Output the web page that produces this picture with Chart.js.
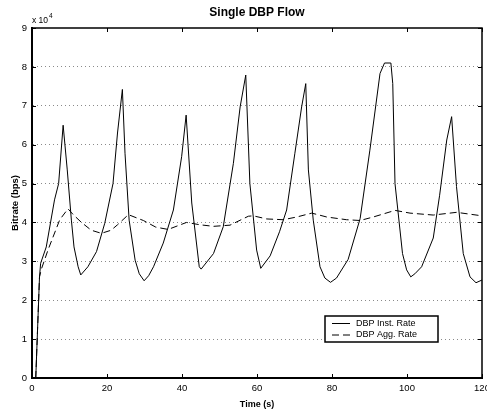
<!DOCTYPE html>
<html>
<head>
<meta charset="utf-8">
<title>Single DBP Flow</title>
<script src="https://cdn.jsdelivr.net/npm/chart.js@4.4.0/dist/chart.umd.min.js"></script>
<style>
    html, body { margin: 0; padding: 0; background: #ffffff; overflow: hidden; }
    #wrap { position: relative; width: 495px; height: 410px; }
</style>
</head>
<body>
<div id="wrap"><canvas id="rateChart"></canvas></div>
<script>
// Data (time in s, rate in bps)
const instTime = [0, 1, 2, 2.3, 3.8, 6.0, 7.1, 8.3, 9.4, 10.5, 11.2, 12.3, 13.0, 14.9, 17.2, 19.4, 21.6, 22.8,
    24.1, 24.8, 25.9, 27.5, 28.6, 29.9, 31.1, 32.4, 35, 37.7, 39.9, 41.1, 42.6, 44.6, 45.1, 48.4, 51, 53.7, 55.5,
    57, 58.1, 59.9, 61, 63.5, 66, 67.9, 70.1, 71.9, 73, 73.7, 75, 76.8, 78.1, 79.6, 81.2, 84.3, 87.5, 90.1, 92.8,
    94, 95.7, 96.2, 96.8, 98.8, 99.9, 101, 102.1, 103.9, 107, 108.7, 110.6, 111.9, 113.2, 115, 116.8, 118.4, 120];
const instRate = [0, 0, 26000, 29500, 33700, 45800, 50000, 65000, 53500, 40600, 33700, 28600, 26500, 28600, 32500, 39800, 50000, 63000,
    74200, 57800, 40600, 30300, 26800, 25000, 26300, 28600, 34700, 43200, 56900, 67600, 45000, 28600, 28000, 32000, 38900, 55200, 69700,
    77900, 50000, 32900, 28200, 31400, 37600, 43200, 57800, 69700, 75700, 53500, 40600, 28600, 25700, 24600, 25700, 30500, 41000, 58600, 78300,
    81000, 81000, 75700, 50000, 32000, 27800, 26000, 26800, 28600, 36000, 47000, 61200, 67200, 49200, 32000, 26000, 24500, 25200];

const aggTime = [1, 2, 2.5, 4.3, 7.4, 9.6, 11, 13.2, 15.8, 18.5, 21.1, 22.8, 25.7, 29.7, 33, 36.3, 41.2, 44.8,
    48.4, 52.8, 57.7, 59, 62.6, 67, 70.6, 74.6, 78.6, 83.9, 87.5, 91, 96.8, 100.8, 107, 113.2, 120];
const aggRate = [0, 26000, 28000, 33000, 40700, 43500, 42000, 40000, 38000, 37200, 38000, 39400, 42000, 40500, 38800, 38200, 40000, 39400,
    39000, 39300, 41600, 41700, 40900, 40700, 41400, 42400, 41400, 40700, 40500, 41400, 43100, 42400, 41900, 42600, 41700];

const seriesLabels = ['DBP Inst. Rate', 'DBP Agg. Rate'];
const yScaleFactor = 10000;

const FONT = '"Liberation Sans", Arial, Helvetica, sans-serif';

function toPoints(times, values) {
    return times.map((t, i) => ({ x: t, y: values[i] }));
}

// MATLAB-style frame: full box, inward ticks, exponent label, boxed legend inside the axes
const matlabFrame = {
    id: 'matlabFrame',
    afterDraw(chart) {
        const { ctx, chartArea: a, scales } = chart;
        const xs = scales.x, ys = scales.y;
        ctx.save();
        ctx.strokeStyle = '#000';
        ctx.lineWidth = 1;
        ctx.beginPath();
        xs.ticks.forEach(t => {
            const px = Math.round(xs.getPixelForValue(t.value)) + 0.5;
            ctx.moveTo(px, a.bottom); ctx.lineTo(px, a.bottom - 4);
            ctx.moveTo(px, a.top); ctx.lineTo(px, a.top + 4);
        });
        ys.ticks.forEach(t => {
            const py = Math.round(ys.getPixelForValue(t.value)) + 0.5;
            ctx.moveTo(a.left, py); ctx.lineTo(a.left + 4, py);
            ctx.moveTo(a.right, py); ctx.lineTo(a.right - 4, py);
        });
        ctx.stroke();

        // top and right edges of the box
        ctx.lineWidth = 1.5;
        ctx.beginPath();
        ctx.moveTo(a.left, a.top); ctx.lineTo(a.right, a.top); ctx.lineTo(a.right, a.bottom);
        ctx.stroke();

        // exponent "x 10^4"
        ctx.fillStyle = '#000';
        ctx.textBaseline = 'alphabetic';
        ctx.textAlign = 'left';
        ctx.font = '8.5px ' + FONT;
        ctx.fillText('x 10', a.left, a.top - 5);
        const w = ctx.measureText('x 10').width;
        ctx.font = '6.5px ' + FONT;
        ctx.fillText('4', a.left + w + 1, a.top - 10);

        // legend box
        const bw = 113, bh = 26;
        const bx = a.right - 44 - bw, by = a.bottom - 36 - bh;
        ctx.fillStyle = '#fff';
        ctx.fillRect(bx, by, bw, bh);
        ctx.lineWidth = 1.5;
        ctx.strokeRect(bx, by, bw, bh);
        ctx.font = '9px ' + FONT;
        ctx.textBaseline = 'middle';
        chart.data.datasets.forEach((ds, i) => {
            const rowY = by + 7.5 + i * 11.5;
            ctx.lineWidth = 1;
            ctx.setLineDash(ds.borderDash || []);
            ctx.beginPath();
            ctx.moveTo(bx + 7, rowY);
            ctx.lineTo(bx + 25, rowY);
            ctx.stroke();
            ctx.setLineDash([]);
            ctx.fillStyle = '#000';
            ctx.fillText(ds.label, bx + 31, rowY);
        });
        ctx.restore();
    }
};

document.addEventListener('DOMContentLoaded', () => {
    const ctx = document.getElementById('rateChart').getContext('2d');

    new Chart(ctx, {
        type: 'line',
        data: {
            datasets: [{
                label: seriesLabels[0],
                data: toPoints(instTime, instRate),
                borderColor: '#000000',
                borderWidth: 1,
                pointRadius: 0,
                tension: 0,
                fill: false,
            }, {
                label: seriesLabels[1],
                data: toPoints(aggTime, aggRate),
                borderColor: '#000000',
                borderWidth: 1,
                borderDash: [7, 4],
                pointRadius: 0,
                tension: 0,
                fill: false,
            }]
        },
        options: {
            responsive: true,
            maintainAspectRatio: false,
            animation: false,
            layout: { padding: { top: 0, left: 0, right: 13, bottom: 0 } },
            plugins: {
                legend: { display: false },
                tooltip: { enabled: false },
                title: {
                    display: true,
                    fullSize: false,
                    text: 'Single DBP Flow',
                    color: '#000',
                    font: { family: FONT, size: 12, weight: 'bold' },
                    padding: { top: 5, bottom: 8.6 }
                }
            },
            scales: {
                x: {
                    type: 'linear',
                    min: 0,
                    max: 120,
                    ticks: {
                        stepSize: 20,
                        color: '#000',
                        padding: 5,
                        maxRotation: 0,
                        font: { family: FONT, size: 9.5 }
                    },
                    grid: { display: false, drawTicks: false },
                    border: { display: true, color: '#000', width: 2 },
                    title: {
                        display: true,
                        text: 'Time (s)',
                        color: '#000',
                        font: { family: FONT, size: 9, weight: 'bold' },
                        padding: { top: 0.5, bottom: 0 }
                    },
                    afterFit(scale) { scale.height = 32; }
                },
                y: {
                    min: 0,
                    max: 90000,
                    ticks: {
                        stepSize: 10000,
                        color: '#000',
                        padding: 5,
                        font: { family: FONT, size: 9.5 },
                        callback: v => v / yScaleFactor
                    },
                    grid: {
                        drawTicks: false,
                        color: ctx => (ctx.tick && (ctx.tick.value === 0 || ctx.tick.value === 90000)) ? 'rgba(0,0,0,0)' : '#8a8a8a',
                        lineWidth: 1
                    },
                    border: { display: true, color: '#000', width: 2, dash: [1, 3] },
                    title: {
                        display: true,
                        text: 'Bitrate (bps)',
                        color: '#000',
                        font: { family: FONT, size: 9.5, weight: 'bold' },
                        padding: { top: 10, bottom: 0 }
                    },
                    afterFit(scale) { scale.width = 32; }
                }
            }
        },
        plugins: [matlabFrame]
    });
});
</script>
</body>
</html>
